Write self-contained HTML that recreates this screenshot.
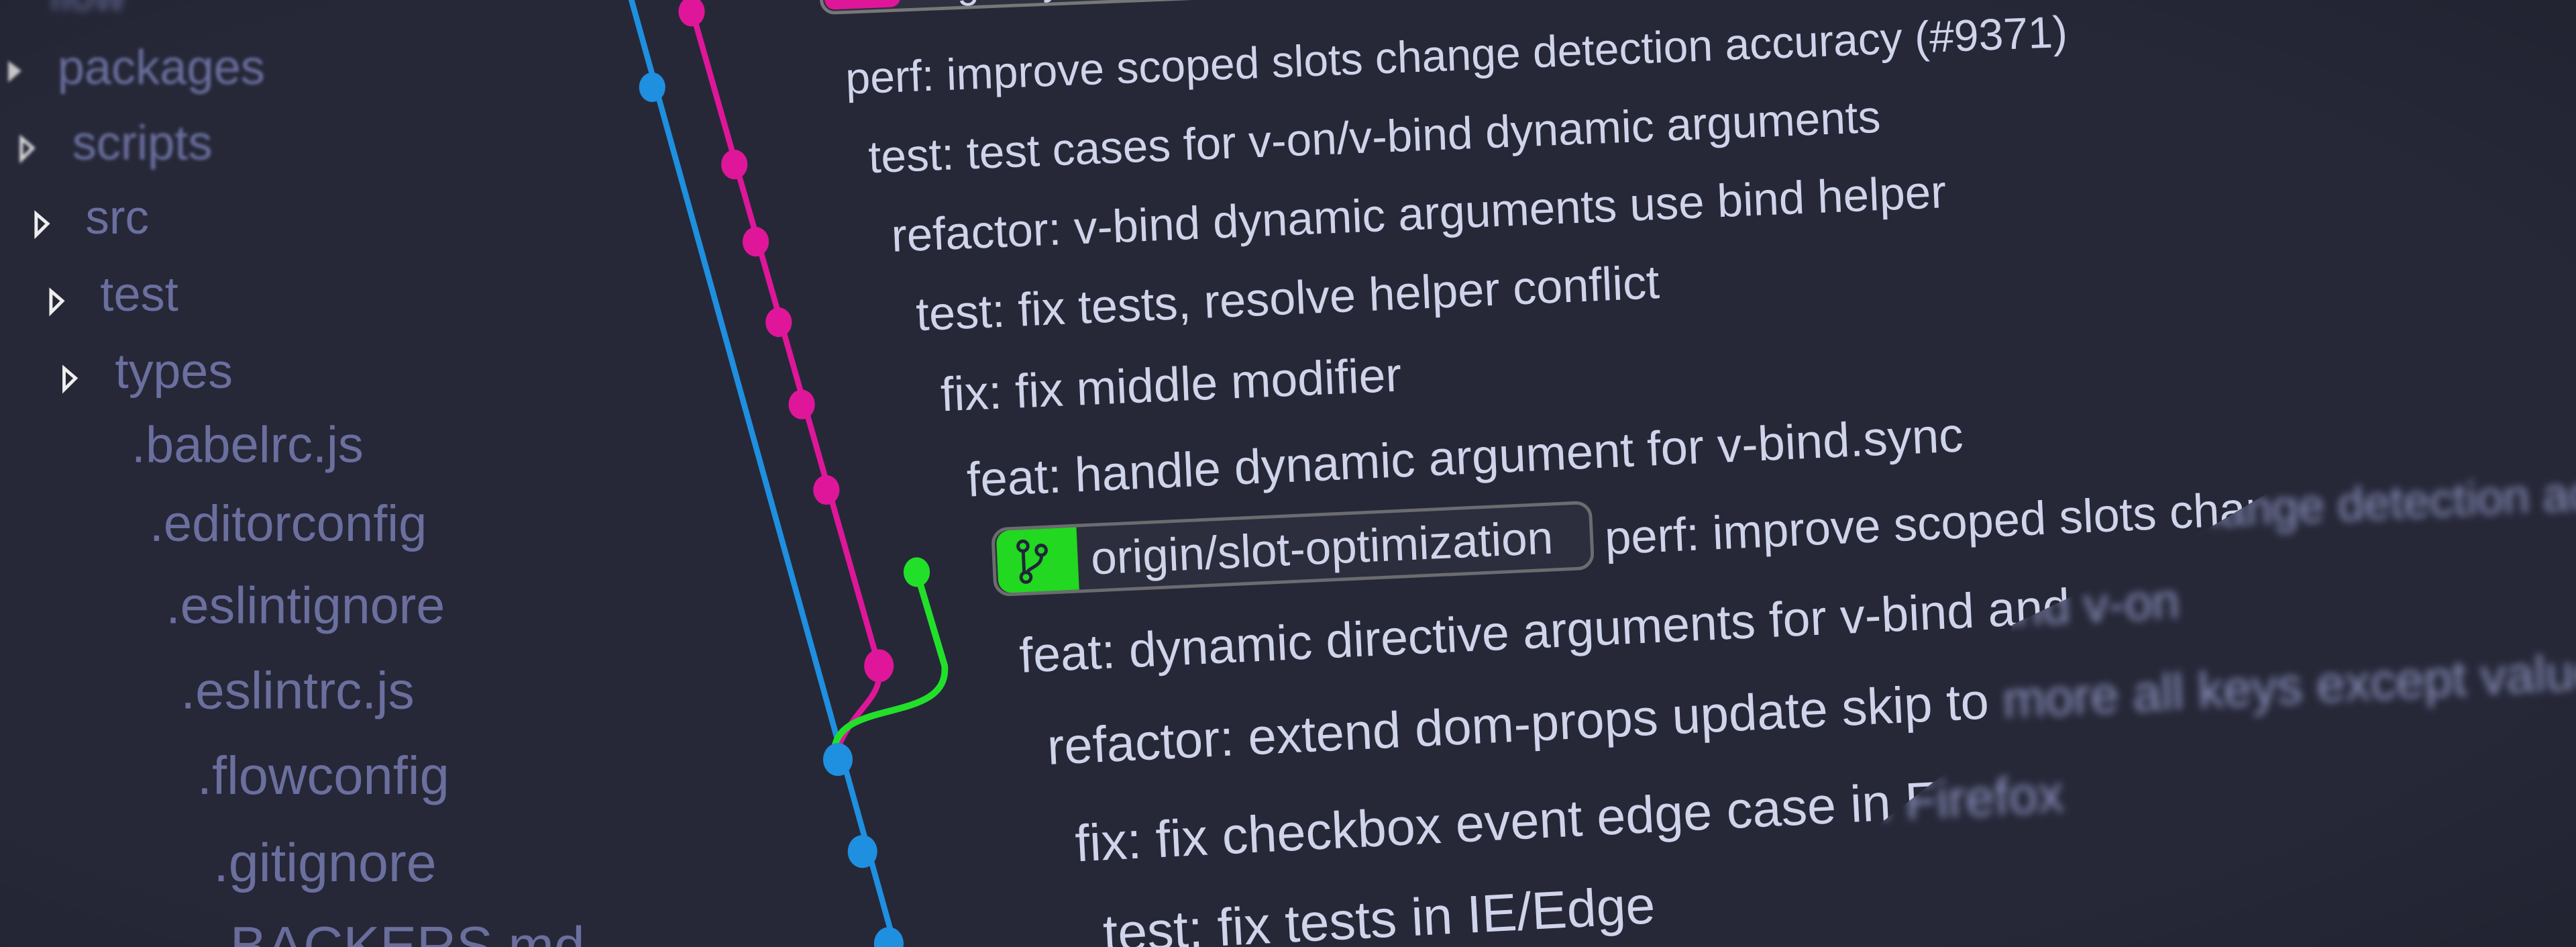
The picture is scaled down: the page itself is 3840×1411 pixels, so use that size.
<!DOCTYPE html>
<html><head><meta charset="utf-8"><style>
html,body{margin:0;padding:0;background:#262838;overflow:hidden}
svg{display:block}
</style></head><body>
<svg width="3840" height="1411" viewBox="0 0 1568 576" xmlns="http://www.w3.org/2000/svg">
<defs>
<filter id="b1" x="-10%" y="-50%" width="120%" height="200%"><feGaussianBlur stdDeviation="1"/></filter>
<filter id="b3" x="-10%" y="-50%" width="120%" height="200%"><feGaussianBlur stdDeviation="2.4"/></filter>
<radialGradient id="vg" cx="0.45" cy="0.5" r="0.8"><stop offset="0.7" stop-color="#000" stop-opacity="0"/><stop offset="1" stop-color="#000" stop-opacity="0.15"/></radialGradient>
<clipPath id="cl"><polygon points="0,-20 1420,-20 1380,300 1330,330 1225,380 1210,450 1120,520 1060,600 0,600"/></clipPath>
<clipPath id="cr"><polygon points="1420,-20 1600,-20 1600,600 1060,600 1120,520 1210,450 1225,380 1330,330 1380,300"/></clipPath>
<g id="commits" font-family="Liberation Sans, sans-serif">
<text x="515" y="57" font-size="27" transform="rotate(-2.2 515 57)">perf: improve scoped slots change detection accuracy (#9371)</text>
<text x="529" y="105" font-size="27.6" transform="rotate(-2.3 529 105)">test: test cases for v-on/v-bind dynamic arguments</text>
<text x="543" y="153" font-size="28.2" transform="rotate(-2.4 543 153)">refactor: v-bind dynamic arguments use bind helper</text>
<text x="558" y="201" font-size="28.7" transform="rotate(-2.5 558 201)">test: fix tests, resolve helper conflict</text>
<text x="573" y="250" font-size="29.2" transform="rotate(-2.5 573 250)">fix: fix middle modifier</text>
<text x="589" y="302" font-size="29.6" transform="rotate(-2.6 589 302)">feat: handle dynamic argument for v-bind.sync</text>
<text x="977" y="354" font-size="28.8" transform="rotate(-2.6 605 340)">perf: improve scoped slots change detection accuracy (#9371)</text>
<text x="621" y="409" font-size="30" transform="rotate(-2.7 621 409)">feat: dynamic directive arguments for v-bind and v-on</text>
<text x="638" y="465" font-size="31" transform="rotate(-2.8 638 465)">refactor: extend dom-props update skip to more all keys except value</text>
<text x="655" y="524" font-size="31.6" transform="rotate(-2.9 655 524)">fix: fix checkbox event edge case in Firefox</text>
<text x="672" y="579" font-size="32.2" transform="rotate(-3 672 579)">test: fix tests in IE/Edge</text>
</g>
</defs>
<rect width="1568" height="576" fill="#262838"/>
<g font-family="Liberation Sans, sans-serif" fill="#6b6f9e">
<g filter="url(#b3)">
<text x="30" y="6" font-size="26">flow</text>
</g>
<g filter="url(#b1)">
<text x="35" y="51" font-size="29.5">packages</text>
<polygon points="5,37 13,43 5,50" fill="#ccc"/>
<text x="44" y="97" font-size="29.5">scripts</text>
<polygon points="13,84 20,90 13,97" fill="none" stroke="#ddd" stroke-width="2"/>
</g>
<text x="52" y="142" font-size="29">src</text>
<polygon points="22,130 29,136 22,143" fill="none" stroke="#eee" stroke-width="2"/>
<text x="61" y="189" font-size="29.5">test</text>
<polygon points="31,177 38,183 31,190" fill="none" stroke="#eee" stroke-width="2"/>
<text x="70" y="236" font-size="30">types</text>
<polygon points="39,224 46,230 39,237" fill="none" stroke="#eee" stroke-width="2"/>
<text x="80" y="281" font-size="31">.babelrc.js</text>
<text x="91" y="329" font-size="31">.editorconfig</text>
<text x="101" y="379" font-size="31.5">.eslintignore</text>
<text x="110" y="431" font-size="32">.eslintrc.js</text>
<text x="120" y="483" font-size="32.5">.flowconfig</text>
<text x="130" y="536" font-size="33">.gitignore</text>
<text x="140" y="587" font-size="33.5">BACKERS.md</text>
</g>
<!-- graph -->
<line x1="383" y1="-5" x2="546" y2="580" stroke="#1f8fe0" stroke-width="3.5"/>
<path d="M418,-5 L535,405 C538,425 520,430 510,455" fill="none" stroke="#e0169a" stroke-width="3.5"/>
<path d="M558,348 L575,405 C578,440 512,425 508,455" fill="none" stroke="#22e02a" stroke-width="4"/>
<g fill="#e0169a">
<ellipse cx="421" cy="7" rx="8" ry="9"/>
<ellipse cx="447" cy="100" rx="8" ry="9"/>
<ellipse cx="460" cy="147" rx="8" ry="9"/>
<ellipse cx="474" cy="196" rx="8" ry="9"/>
<ellipse cx="488" cy="246" rx="8" ry="9"/>
<ellipse cx="503" cy="298" rx="8" ry="9"/>
<ellipse cx="535" cy="405" rx="9" ry="10"/>
</g>
<ellipse cx="558" cy="348" rx="8" ry="9" fill="#22e02a"/>
<g fill="#1f8fe0">
<ellipse cx="397" cy="53" rx="8" ry="9"/>
<ellipse cx="510" cy="462" rx="9" ry="10"/>
<ellipse cx="525" cy="518" rx="9" ry="10"/>
<ellipse cx="541" cy="574" rx="9" ry="10"/>
</g>
<!-- top badge -->
<g transform="rotate(-2.3 500 0)">
<rect x="500" y="-22" width="482" height="30" rx="8" fill="#2e303f" stroke="#777" stroke-width="2"/>
<rect x="502" y="-20" width="46" height="26" rx="6" fill="#e0169a"/>
<text x="556" y="2" font-family="Liberation Sans, sans-serif" font-size="24" fill="#d0d4ea">origin/dynamic-directive-arguments</text>
</g>
<!-- slot badge -->
<g transform="rotate(-2.6 605 340)">
<rect x="605" y="322" width="364" height="40" rx="9" fill="#2c2e3d" stroke="#6c6c70" stroke-width="2"/>
<path d="M607,331 a8,8 0 0 1 8,-8 h41 v38 h-41 a8,8 0 0 1 -8,-8z" fill="#22d820"/>
<g fill="none" stroke="#22243a" stroke-width="2"><circle cx="623" cy="333" r="3"/><circle cx="634" cy="336" r="3"/><circle cx="624" cy="352" r="3"/><path d="M623,336 V349 M634,339 C634,346 626,346 625,349"/></g>
<text x="664" y="352" font-family="Liberation Sans, sans-serif" font-size="28.3" fill="#d0d4ea">origin/slot-optimization</text>
</g>
<g clip-path="url(#cl)" fill="#d0d4ea"><use href="#commits"/></g>
<g clip-path="url(#cr)"><g filter="url(#b3)" fill="#8c91bc"><use href="#commits"/></g></g>
<rect width="1568" height="576" fill="url(#vg)"/>
</svg>
</body></html>
